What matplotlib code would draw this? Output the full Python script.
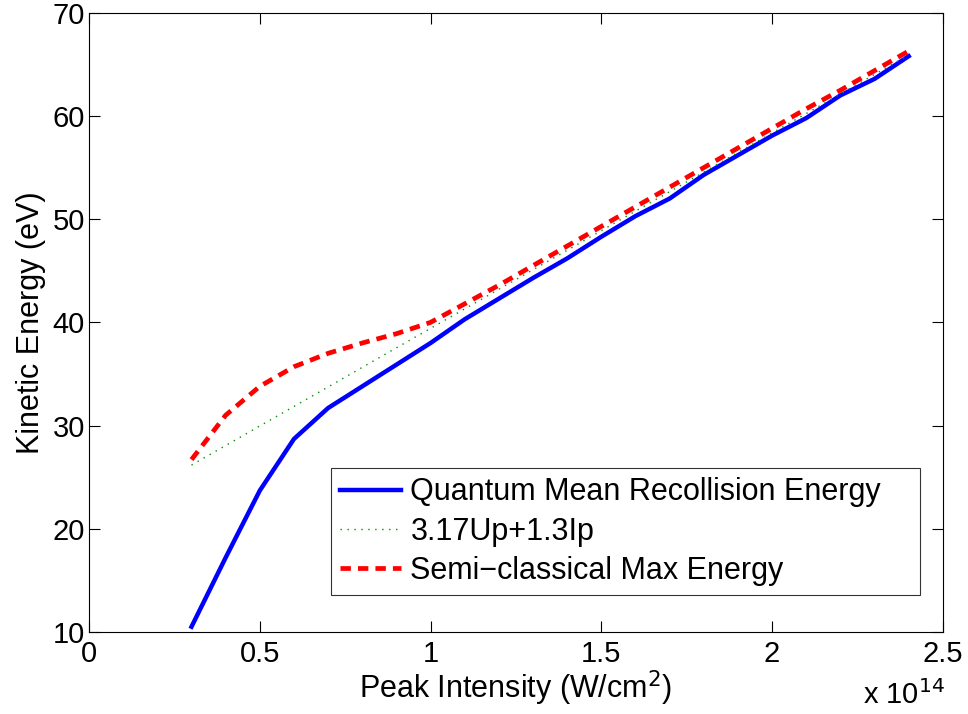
import matplotlib.pyplot as plt
import numpy as np

plt.rcParams['font.family'] = ['Liberation Sans', 'DejaVu Sans']

# peak intensity in units of 1e14 W/cm^2
intensity = [0.3, 0.4, 0.5, 0.6, 0.7, 0.8, 0.9, 1.0, 1.1, 1.2, 1.3,
             1.4, 1.5, 1.6, 1.7, 1.8, 1.9, 2.0, 2.1, 2.2, 2.3, 2.4]
quantum_mean = [10.5, 17.2, 23.7, 28.7, 31.7, 33.8, 35.9, 38.0, 40.3, 42.3, 44.3,
                46.2, 48.3, 50.3, 52.0, 54.3, 56.2, 58.1, 59.8, 62.0, 63.6, 65.8]
cutoff_law = [26.17, 28.06, 29.96, 31.85, 33.74, 35.64, 37.53, 39.42, 41.31, 43.21, 45.10,
              46.99, 48.89, 50.78, 52.67, 54.56, 56.46, 58.35, 60.24, 62.14, 64.03, 65.92]
semi_max = [26.7, 31.0, 33.8, 35.7, 37.0, 38.0, 38.9, 40.0, 41.8, 43.6, 45.5,
            47.4, 49.3, 51.2, 53.1, 55.0, 56.9, 58.8, 60.7, 62.5, 64.4, 66.3]

fig = plt.figure(figsize=(9.68, 7.14), dpi=100)
ax = fig.add_axes([0.092, 0.115, 0.882, 0.867])

ax.plot(intensity, quantum_mean, color='#0000ff', lw=3.2, label='Quantum Mean Recollision Energy')
ax.plot(intensity, cutoff_law, color='#009000', lw=1.0, ls=(0, (1, 4)), label='3.17Up+1.3Ip')
ax.plot(intensity, semi_max, color='#ff0000', lw=3.4, ls=(0, (2.2, 1.5)), label='Semi\u2212classical Max Energy')

ax.set_xlim(0, 2.5)
ax.set_ylim(10, 70)
ax.set_xticks(np.arange(0, 2.51, 0.5))
ax.set_xticklabels(['0', '0.5', '1', '1.5', '2', '2.5'])
ax.set_yticks(np.arange(10, 71, 10))
ax.tick_params(direction='in', top=True, right=True, labelsize=21, length=8, width=0.8)
ax.tick_params(axis='x', pad=6)
ax.tick_params(axis='y', pad=3)
for s in ax.spines.values():
    s.set_linewidth(0.8)

ax.set_xlabel('Peak Intensity (W/cm$^2$)', fontsize=22, labelpad=0)
ax.set_ylabel('Kinetic Energy (eV)', fontsize=22, labelpad=5)
fig.text(0.976, 0.005, 'x 10$^{14}$', ha='right', va='bottom', fontsize=21)

leg = ax.legend(loc='lower left', bbox_to_anchor=(0.2834, 0.0598, 0.6897, 0.2), mode='expand',
                fontsize=22, frameon=True, fancybox=False, edgecolor='black', handlelength=2.0,
                borderpad=0.3, labelspacing=0.3, handletextpad=0.3, borderaxespad=0)
leg.get_frame().set_linewidth(0.8)

fig.savefig('out.png', dpi=100)
